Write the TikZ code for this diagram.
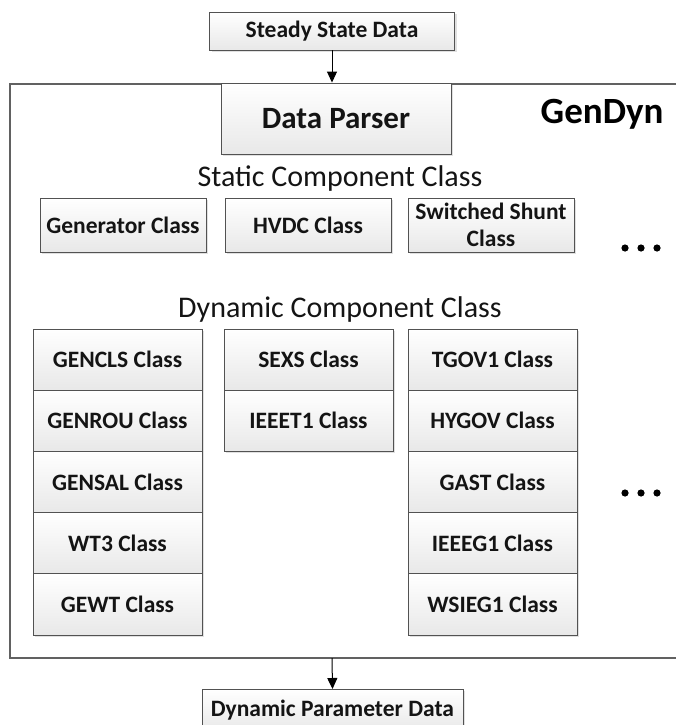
\documentclass[tikz,border=0pt]{standalone}
\usepackage{fontspec}
\setmainfont{Carlito}
\usetikzlibrary{arrows.meta,shadows}

\tikzset{
	classbox/.style={draw=black!68, line width=0.9pt, top color=white, bottom color=black!9,
		drop shadow={shadow xshift=2pt, shadow yshift=-2pt, fill=black!12, opacity=1},
		inner sep=0pt, align=center, text=black!92,
		font=\bfseries\fontsize{23.5}{27.5}\selectfont},
	rowbox/.style={classbox, minimum width=169pt, minimum height=61.2pt},
	statbox/.style={classbox, minimum width=166pt, minimum height=54pt},
	databox/.style={classbox},
	frame/.style={draw=black!62, line width=1.8pt},
	flow/.style={line width=1pt, -{Triangle[length=11pt,width=10pt]}},
	heading/.style={font=\fontsize{30}{32}\selectfont, text=black!92},
}

\begin{document}
\begin{tikzpicture}[x=1pt, y=-1pt]
		%%%%% START %%%%%
		\useasboundingbox (0, 0) rectangle (675, 725);
		
		% GenDyn frame, open to the right
		\draw[frame] (680, 84) -- (10, 84) -- (10, 658) -- (680, 658);
		\node[anchor=east, font=\bfseries\fontsize{37}{38}\selectfont] (gendyn) at (667, 114) {GenDyn};
		
		% input and parser
		\node[databox, minimum width=245pt, minimum height=38pt] (steady) at (332, 31) {Steady State Data};
		\node[classbox, minimum width=230pt, minimum height=71pt, font=\bfseries\fontsize{31}{32}\selectfont] (parser) at (336, 118.5) {Data Parser};
		\draw[flow] (steady) -- (steady |- parser.north);
		
		% static components
		\node[heading] (stattitle) at (340, 179) {Static Component Class};
		\node[statbox] (gen) at (123, 225) {Generator Class};
		\node[statbox] (hvdc) at (308, 225) {HVDC Class};
		\node[statbox] (shunt) at (491, 225) {Switched Shunt\\Class};
		\foreach \x in {625, 641, 657} \fill (\x, 248) circle (3.6);
		
		% dynamic components
		\node[heading] (dyntitle) at (340, 309) {Dynamic Component Class};
		
		\node[rowbox] (gencls) at (117.5, 359.6) {GENCLS Class};
		\node[rowbox] (genrou) at (117.5, 420.8) {GENROU Class};
		\node[rowbox] (gensal) at (117.5, 482.0) {GENSAL Class};
		\node[rowbox] (wt3) at (117.5, 543.2) {WT3 Class};
		\node[rowbox] (gewt) at (117.5, 604.4) {GEWT Class};
		
		\node[rowbox] (sexs) at (308.5, 359.6) {SEXS Class};
		\node[rowbox] (ieeet1) at (308.5, 420.8) {IEEET1 Class};
		
		\node[rowbox] (tgov1) at (492.5, 359.6) {TGOV1 Class};
		\node[rowbox] (hygov) at (492.5, 420.8) {HYGOV Class};
		\node[rowbox] (gast) at (492.5, 482.0) {GAST Class};
		\node[rowbox] (ieeeg1) at (492.5, 543.2) {IEEEG1 Class};
		\node[rowbox] (wsieg1) at (492.5, 604.4) {WSIEG1 Class};
		
		\foreach \x in {625, 641, 657} \fill (\x, 493) circle (3.6);
		
		% output
		\coordinate (out) at (332, 658);
		\node[databox, anchor=north, minimum width=261pt, minimum height=42pt] (dynpar) at (332.5, 689) {Dynamic Parameter Data};
		\draw[flow] (out) -- (dynpar.north);
		
		%%%%% END %%%%%
	\end{tikzpicture}
\end{document}
